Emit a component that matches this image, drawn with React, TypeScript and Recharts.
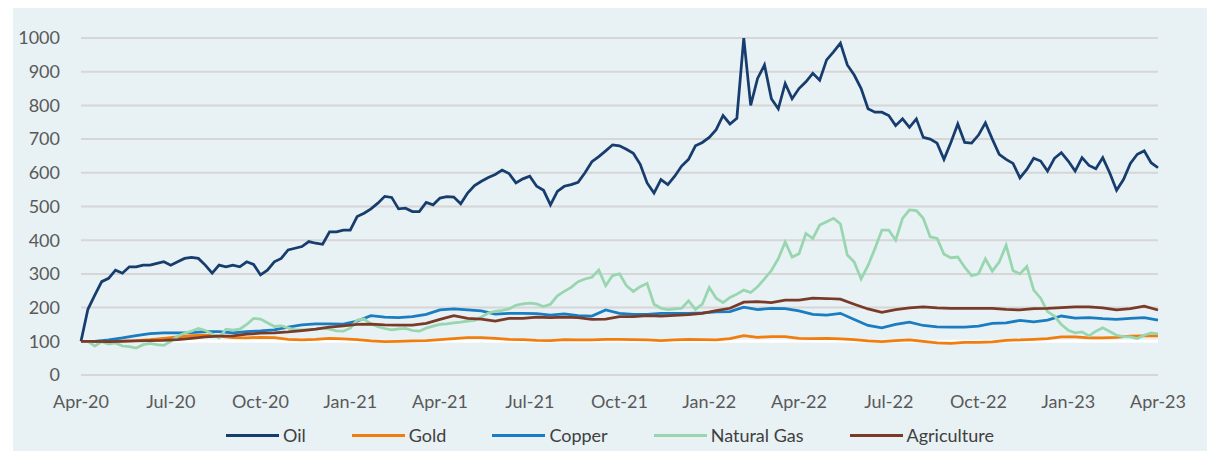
import { LineChart, Line, XAxis, YAxis, CartesianGrid, ReferenceLine } from "recharts";

// x axis = weeks since Apr-20
const tickWeeks = [0, 13, 26, 39, 52, 65, 78, 91, 104, 117, 130, 143, 156];
const tickLabels = [
  "Apr-20", "Jul-20", "Oct-20", "Jan-21", "Apr-21", "Jul-21", "Oct-21",
  "Jan-22", "Apr-22", "Jul-22", "Oct-22", "Jan-23", "Apr-23",
];
const yTicks = [0, 100, 200, 300, 400, 500, 600, 700, 800, 900, 1000];

// weekly
const oil = [
  100, 195, 237, 277, 287, 311, 302, 321, 321, 326,
  326, 331, 336, 326, 336, 346, 349, 346, 326, 302,
  326, 321, 326, 321, 336, 328, 297, 311, 336, 346,
  371, 376, 381, 396, 391, 388, 425, 425, 430, 430,
  470, 480, 493, 510, 530, 527, 493, 495, 485, 485,
  512, 505, 525, 529, 528, 508, 540, 562, 575, 586,
  595, 608, 598, 570, 582, 590, 560, 548, 505, 545,
  560, 565, 572, 600, 633, 648, 665, 683, 680, 670,
  658, 625, 570, 540, 580, 565, 590, 620, 640, 680,
  690, 705, 728, 770, 745, 762, 1000, 800, 880, 920,
  820, 790, 865, 820, 850, 870, 895, 875, 935, 959,
  985, 920, 890, 850, 790, 780, 780, 770, 740, 760,
  735, 760, 705, 700, 688, 640, 690, 745, 690, 688,
  712, 748, 700, 655, 640, 628, 585, 610, 643, 635,
  605, 643, 660, 635, 605, 645, 622, 612, 645, 600,
  548, 580, 628, 655, 665, 630, 615,
];

const natGas = [
  100, 100, 86, 99, 92, 95, 86, 84, 80, 90,
  94, 90, 88, 100, 116, 124, 130, 138, 132, 122,
  110, 136, 133, 136, 150, 168, 166, 155, 144, 146,
  140, 134, 134, 134, 136, 139, 136, 131, 130, 139,
  163, 166, 152, 143, 138, 134, 137, 138, 132, 130,
  139, 145, 150, 152, 155, 157, 160, 162, 172, 184,
  189, 192, 196, 207, 211, 213, 211, 203, 210, 235,
  248, 260, 277, 285, 290, 312, 265, 295, 300, 265,
  248, 262, 272, 210, 198, 194, 196, 198, 220, 195,
  210, 260, 228, 215, 230, 240, 252, 245, 262, 285,
  310, 345, 395, 350, 360, 420, 405, 445, 455, 465,
  448, 356, 335, 285, 325, 375, 430, 430, 400, 465,
  490, 488, 465, 410, 405, 358, 348, 350, 320, 295,
  300, 345, 308, 335, 385, 310, 300, 322, 252, 228,
  188, 175, 150, 133, 125, 128, 116, 130, 140, 129,
  118, 114, 113, 108, 118, 125, 122,
];

// every 2 weeks
const gold = [
  100, 100, 101, 101, 102, 105, 109, 113, 117, 118,
  115, 111, 110, 112, 111, 106, 104, 106, 109, 107,
  105, 101, 99, 100, 101, 102, 105, 108, 111, 111,
  109, 106, 105, 103, 102, 105, 104, 104, 106, 106,
  105, 104, 102, 104, 106, 105, 104, 108, 117, 112,
  114, 114, 109, 108, 109, 107, 105, 101, 99, 102,
  104, 100, 95, 94, 97, 97, 98, 103, 104, 106,
  108, 113, 113, 110, 110, 112, 115, 116, 116,
];

const copper = [
  100, 100, 104, 110, 117, 123, 125, 125, 126, 129,
  129, 125, 129, 131, 134, 142, 149, 152, 152, 151,
  160, 176, 172, 170, 173, 180, 193, 196, 193, 190,
  181, 183, 183, 182, 178, 181, 176, 175, 193, 183,
  180, 180, 183, 183, 183, 184, 187, 188, 201, 194,
  198, 197, 190, 180, 178, 183, 165, 147, 140, 150,
  157, 147, 143, 142, 142, 145, 153, 155, 162, 158,
  163, 175, 169, 170, 167, 165, 168, 170, 163,
];

const agriculture = [
  100, 100, 99, 100, 101, 102, 103, 105, 109, 113,
  115, 116, 121, 124, 125, 128, 132, 136, 142, 146,
  150, 151, 149, 148, 148, 153, 165, 176, 168, 166,
  160, 168, 168, 172, 170, 172, 170, 165, 166, 173,
  173, 176, 175, 177, 179, 183, 191, 198, 216, 218,
  215, 222, 222, 228, 227, 225, 210, 196, 186, 194,
  199, 202, 199, 198, 198, 198, 198, 195, 193, 197,
  198, 200, 202, 202, 199, 193, 197, 204, 193,
];

const SERIES = [
  { key: "oil", name: "Oil", color: "#173d6e" },
  { key: "gold", name: "Gold", color: "#f07d0c" },
  { key: "copper", name: "Copper", color: "#1a7cc1" },
  { key: "gas", name: "Natural Gas", color: "#98d6b0" },
  { key: "agri", name: "Agriculture", color: "#7a3a28" },
];

const data = oil.map((v, w) => ({
  week: w,
  oil: v,
  gas: natGas[w],
  gold: w % 2 === 0 ? gold[w / 2] : null,
  copper: w % 2 === 0 ? copper[w / 2] : null,
  agri: w % 2 === 0 ? agriculture[w / 2] : null,
}));

const FONT = "Lato, 'Open Sans', sans-serif";
const tickStyle = { fill: "#595959", fontSize: 18, fontFamily: FONT };

export default function App() {
  return (
    <div
      style={{
        position: "absolute",
        left: 13,
        top: 8,
        width: 1194,
        height: 443,
        background: "#e8f1f4",
        fontFamily: FONT,
      }}
    >
      <LineChart
        width={1194}
        height={443}
        data={data}
        margin={{ top: 30, right: 49, bottom: 46, left: 0 }}
      >
        <CartesianGrid horizontal vertical={false} stroke="#d6d6d6" strokeWidth={2} />
        <XAxis
          dataKey="week"
          type="number"
          domain={[0, 156]}
          ticks={tickWeeks}
          interval={0}
          tickFormatter={(v: number) => tickLabels[tickWeeks.indexOf(v)] ?? ""}
          axisLine={false}
          tickLine={false}
          tickMargin={14}
          height={30}
          tick={tickStyle}
        />
        <YAxis
          domain={[0, 1000]}
          ticks={yTicks}
          interval={0}
          allowDataOverflow
          axisLine={false}
          tickLine={false}
          tickMargin={15}
          width={68}
          tick={tickStyle}
        />
        <ReferenceLine y={100} stroke="#ffffff" strokeWidth={3} />
        {SERIES.map((s) => (
          <Line
            key={s.key}
            type="linear"
            dataKey={s.key}
            name={s.name}
            stroke={s.color}
            strokeWidth={2.75}
            dot={false}
            connectNulls
            isAnimationActive={false}
          />
        ))}
      </LineChart>
      <div
        style={{
          position: "absolute",
          left: 0,
          width: 1194,
          top: 416,
          display: "flex",
          justifyContent: "center",
          alignItems: "center",
          fontSize: 18,
          color: "#404040",
        }}
      >
        {SERIES.map((s) => (
          <div key={s.key} style={{ display: "flex", alignItems: "center", margin: "0 23px" }}>
            <span style={{ width: 53, height: 3, background: s.color, marginRight: 4 }} />
            <span>{s.name}</span>
          </div>
        ))}
      </div>
    </div>
  );
}
